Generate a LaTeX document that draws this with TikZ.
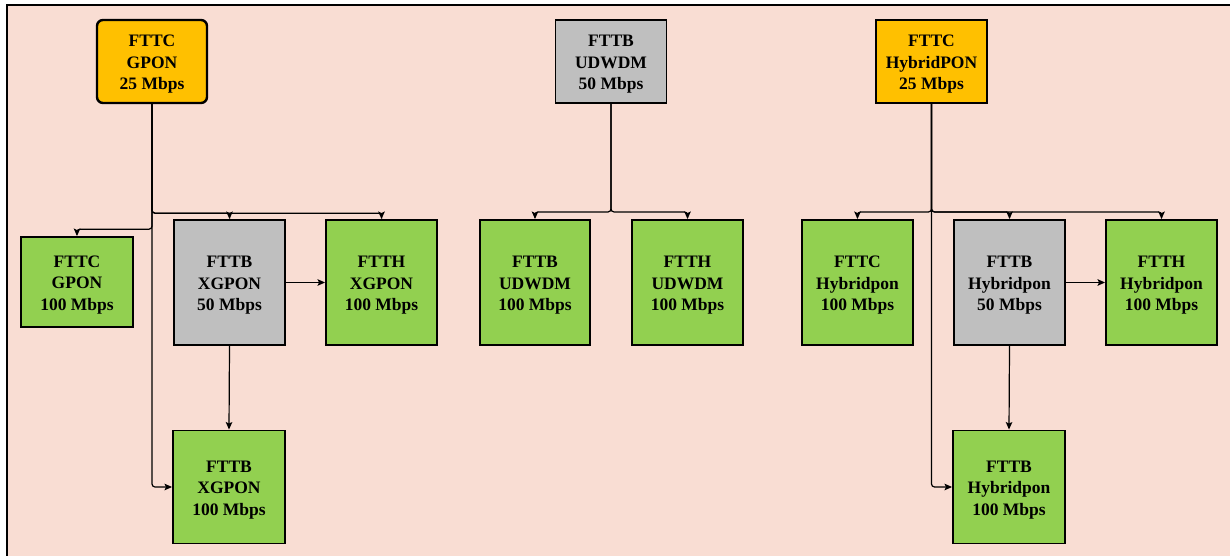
\documentclass[tikz,border=0pt]{standalone}
\usepackage{fontspec}
\setmainfont{Liberation Serif}
\usetikzlibrary{arrows.meta}
\definecolor{bgpink}{RGB}{249,221,211}
\definecolor{orangebox}{RGB}{255,192,0}
\definecolor{graybox}{RGB}{191,191,191}
\definecolor{greenbox}{RGB}{146,208,80}
% tall invisible strut that lowers the three-line labels a little inside their boxes
\newcommand{\boxstrut}{\rule{0pt}{17.5pt}}

\begin{document}
\begin{tikzpicture}[x=1pt,y=-1pt,
  box/.style={draw=black, line width=1.9pt, align=center, inner sep=0pt,
    font=\fontsize{17.5}{21.6}\selectfont\bfseries, text=black},
  topbox/.style={box, fill=orangebox, minimum width=110pt, minimum height=83pt},
  srcbox/.style={box, fill=graybox, minimum width=111pt, minimum height=83pt},
  midbox/.style={box, fill=graybox, minimum width=111pt, minimum height=125pt},
  leafbox/.style={box, fill=greenbox, minimum width=111pt, minimum height=125pt},
  conn/.style={draw=black, line width=1.2pt, rounded corners=3pt,
    -{Stealth[length=7.5pt,width=6.5pt,inset=1.5pt]}}
]
\useasboundingbox (0,0) rectangle (1230,556);
% page background and frame
\fill[bgpink] (7,5) rectangle (1230,556);
\draw[line width=2pt] (7,556) -- (7,5) -- (1230,5);

% GPON family
\node[topbox, rounded corners=6pt, line width=2.4pt] (A1) at (152,61.5) {\boxstrut FTTC\\GPON\\25 Mbps};
\node[leafbox, minimum width=112pt, minimum height=90pt] (A2) at (77,282) {\boxstrut FTTC\\GPON\\100 Mbps};
\node[midbox] (A3) at (229.5,282.5) {\boxstrut FTTB\\XGPON\\50 Mbps};
\node[leafbox] (A4) at (381.5,282.5) {\boxstrut FTTH\\XGPON\\100 Mbps};
\node[leafbox, minimum width=112pt, minimum height=113pt] (A5) at (229,487) {\boxstrut FTTB\\XGPON\\100 Mbps};

% UDWDM family
\node[srcbox] (B1) at (611,61.5) {\boxstrut FTTB\\UDWDM\\50 Mbps};
\node[leafbox, minimum width=110pt] (B2) at (535,282.5) {\boxstrut FTTB\\UDWDM\\100 Mbps};
\node[leafbox] (B3) at (687.5,282.5) {\boxstrut FTTH\\UDWDM\\100 Mbps};

% HybridPON family
\node[topbox, minimum width=111pt] (C1) at (931.5,61.5) {\boxstrut FTTC\\HybridPON\\25 Mbps};
\node[leafbox] (C2) at (857.5,282.5) {\boxstrut FTTC\\Hybridpon\\100 Mbps};
\node[midbox] (C3) at (1009.5,282.5) {\boxstrut FTTB\\Hybridpon\\50 Mbps};
\node[leafbox] (C4) at (1161.5,282.5) {\boxstrut FTTH\\Hybridpon\\100 Mbps};
\node[leafbox, minimum width=112pt, minimum height=113pt] (C5) at (1009,487) {\boxstrut FTTB\\Hybridpon\\100 Mbps};

% GPON connectors
\draw[conn] (A1.south) -- ++(0,125) -| (A2.north);
\draw[conn] (A1.south) -- ++(0,109) -| (A3.north);
\draw[conn] (A1.south) -- ++(0,109) -| (A4.north);
\draw[conn] (A1.south) |- (A5.west);
\draw[conn] (A3.east) -- (A4.west);
\draw[conn] (A3.south) -- (A5.north);

% UDWDM connectors
\draw[conn] (B1.south) -- ++(0,108) -| (B2.north);
\draw[conn] (B1.south) -- ++(0,108) -| (B3.north);

% HybridPON connectors
\draw[conn] (C1.south) -- ++(0,108) -| (C2.north);
\draw[conn] (C1.south) -- ++(0,108) -| (C3.north);
\draw[conn] (C1.south) -- ++(0,108) -| (C4.north);
\draw[conn] (C1.south) |- (C5.west);
\draw[conn] (C3.east) -- (C4.west);
\draw[conn] (C3.south) -- (C5.north);
\end{tikzpicture}
\end{document}
